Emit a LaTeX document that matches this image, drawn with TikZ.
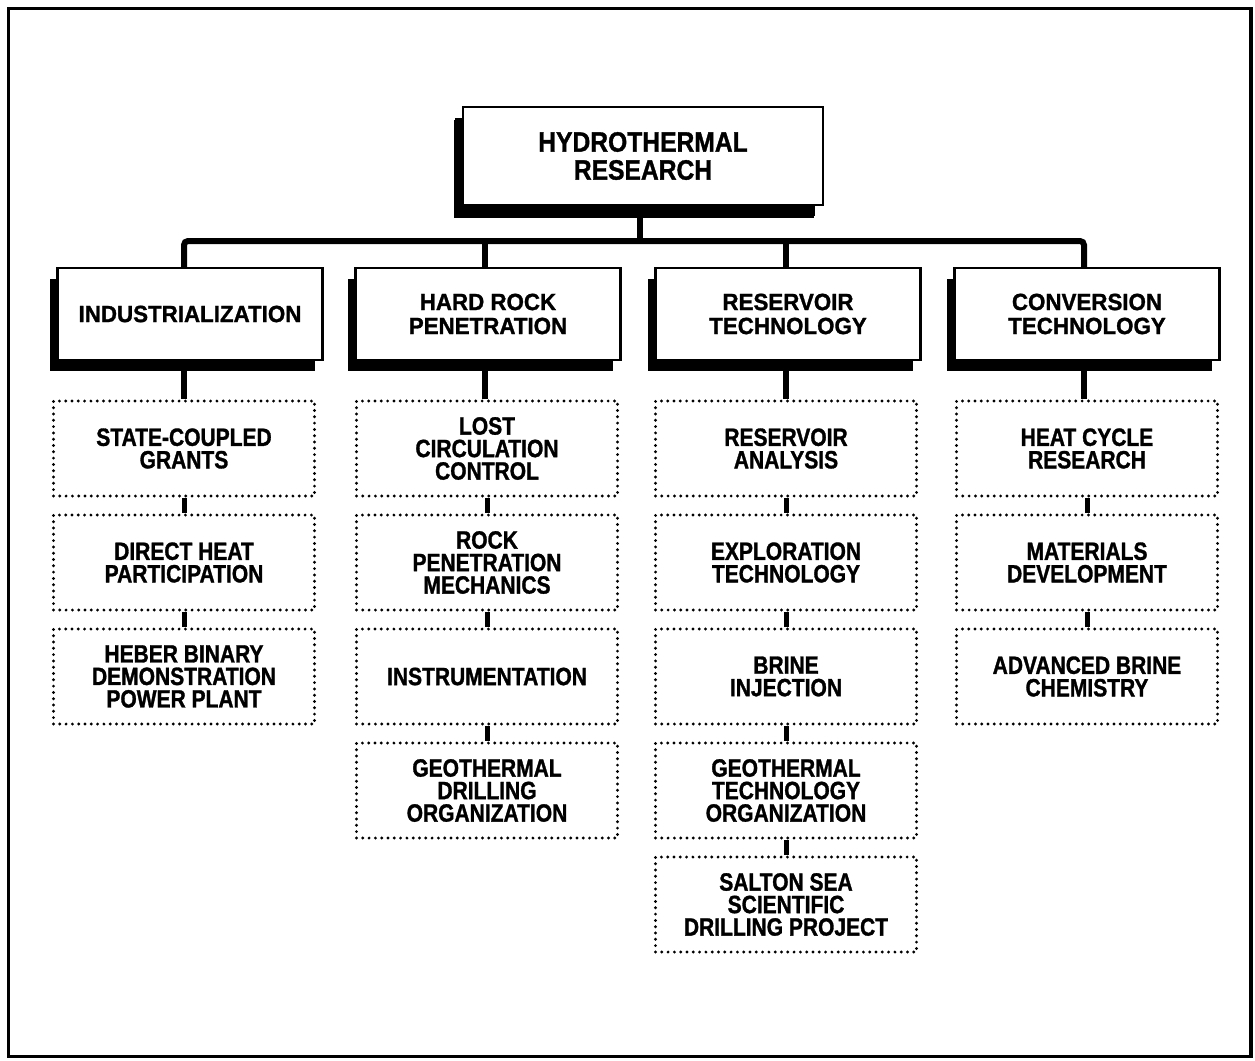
\documentclass[tikz,border=0pt]{standalone}
\usepackage{fontspec}
\setmainfont{Liberation Sans}
\newfontfamily\titlefont{Liberation Sans Bold}[FakeStretch=0.88, FakeBold=1.2]
\newfontfamily\headfont{Liberation Sans Bold}[FakeStretch=0.95, FakeBold=1.2]
\newfontfamily\itemfont{Liberation Sans Bold}[FakeStretch=0.84, FakeBold=1.2]
\usetikzlibrary{shadows}

\begin{document}
\begin{tikzpicture}[x=1pt,y=-1pt,
  frame/.style={line width=3.8pt},
  shadowed/.style={draw, fill=white, line width=2.5pt, inner sep=2pt, align=center,
    general shadow={fill=black, shadow xshift=-8pt, shadow yshift=-11pt}},
  titlebox/.style={shadowed, minimum width=360pt, minimum height=98pt,
    general shadow={fill=black, shadow xshift=-9pt, shadow yshift=-13pt},
    font={\titlefont\fontsize{28}{28}\selectfont}},
  headbox/.style={shadowed, minimum width=265pt, minimum height=92pt,
    font={\headfont\fontsize{23.5}{24}\selectfont}},
  itembox/.style={draw, line width=3.2pt, line cap=round, dash pattern=on 0pt off 6.3pt,
    minimum width=261pt, minimum height=95pt, inner sep=2pt, align=center,
    font={\itemfont\fontsize{25}{22.5}\selectfont}},
  bus/.style={line width=6pt},
  link/.style={line width=5pt}]

\useasboundingbox (0,0) rectangle (1255,1060);

% outer frame
\draw[frame] (8.5,8.5) rectangle (1251,1056.5);

% program title
\node[titlebox] (title) at (643,156) {HYDROTHERMAL\\RESEARCH};

% program elements
\node[headbox] (ind)  at (190,314)  {INDUSTRIALIZATION};
\node[headbox] (hrp)  at (488,314)  {HARD ROCK\\PENETRATION};
\node[headbox] (res)  at (788,314)  {RESERVOIR\\TECHNOLOGY};
\node[headbox] (conv) at (1087,314) {CONVERSION\\TECHNOLOGY};

% activities: industrialization
\node[itembox] (d11) at (184,448.5) {STATE-COUPLED\\GRANTS};
\node[itembox] (d12) at (184,562.5) {DIRECT HEAT\\PARTICIPATION};
\node[itembox] (d13) at (184,676.5) {HEBER BINARY\\DEMONSTRATION\\POWER PLANT};

% activities: hard rock penetration
\node[itembox] (d21) at (487,448.5) {LOST\\CIRCULATION\\CONTROL};
\node[itembox] (d22) at (487,562.5) {ROCK\\PENETRATION\\MECHANICS};
\node[itembox] (d23) at (487,676.5) {INSTRUMENTATION};
\node[itembox] (d24) at (487,790.5) {GEOTHERMAL\\DRILLING\\ORGANIZATION};

% activities: reservoir technology
\node[itembox] (d31) at (786,448.5) {RESERVOIR\\ANALYSIS};
\node[itembox] (d32) at (786,562.5) {EXPLORATION\\TECHNOLOGY};
\node[itembox] (d33) at (786,676.5) {BRINE\\INJECTION};
\node[itembox] (d34) at (786,790.5) {GEOTHERMAL\\TECHNOLOGY\\ORGANIZATION};
\node[itembox] (d35) at (786,904.5) {SALTON SEA\\SCIENTIFIC\\DRILLING PROJECT};

% activities: conversion technology
\node[itembox] (d41) at (1087,448.5) {HEAT CYCLE\\RESEARCH};
\node[itembox] (d42) at (1087,562.5) {MATERIALS\\DEVELOPMENT};
\node[itembox] (d43) at (1087,676.5) {ADVANCED BRINE\\CHEMISTRY};

% distribution bus
\coordinate (hub) at (640,241);
\coordinate (b1) at (184,241);
\coordinate (b2) at (485,241);
\coordinate (b3) at (786,241);
\coordinate (b4) at (1084,241);

\draw[bus] (title.south -| hub) -- (hub);
\draw[bus, rounded corners=4pt] (b1 |- ind.north) -- (b1) -- (b4) -- (b4 |- conv.north);
\draw[bus] (b2) -- (b2 |- hrp.north);
\draw[bus] (b3) -- (b3 |- res.north);

% element to first activity
\draw[bus] (b1 |- ind.south)  -- (b1 |- d11.north);
\draw[bus] (b2 |- hrp.south)  -- (b2 |- d21.north);
\draw[bus] (b3 |- res.south)  -- (b3 |- d31.north);
\draw[bus] (b4 |- conv.south) -- (b4 |- d41.north);

% chains of activities
\draw[link] (d11.south) -- (d12.north);
\draw[link] (d12.south) -- (d13.north);
\draw[link] (d21.south) -- (d22.north);
\draw[link] (d22.south) -- (d23.north);
\draw[link] (d23.south) -- (d24.north);
\draw[link] (d31.south) -- (d32.north);
\draw[link] (d32.south) -- (d33.north);
\draw[link] (d33.south) -- (d34.north);
\draw[link] (d34.south) -- (d35.north);
\draw[link] (d41.south) -- (d42.north);
\draw[link] (d42.south) -- (d43.north);

\end{tikzpicture}
\end{document}
